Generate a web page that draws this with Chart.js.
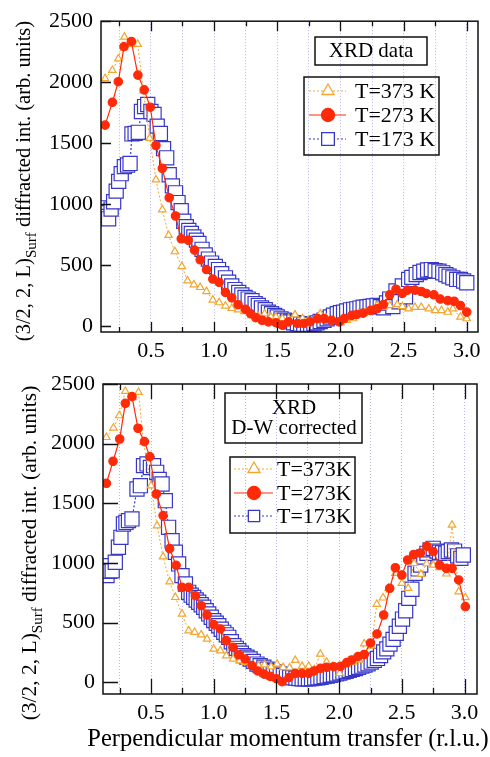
<!DOCTYPE html>
<html lang="en">
<head>
<meta charset="UTF-8">
<title>XRD surface rod</title>
<script src="https://cdn.jsdelivr.net/npm/chart.js"></script>
<style>
  body { margin: 0; background: #fff; }
  #wrap { position: relative; width: 490px; height: 757px; }
  canvas { position: absolute; left: 0; }
</style>
</head>
<body>
<div id="wrap">
  <canvas id="topChart" width="490" height="362" style="top:0"></canvas>
  <canvas id="bottomChart" width="490" height="395" style="top:362px"></canvas>
</div>

<script>
// ---- upper panel: XRD data ----
const topL373 = [0.137,0.195,0.242,0.29,0.345,0.395,0.44,0.49,0.54,0.59,0.64,0.69,0.745,0.79,0.84,0.89,0.94,0.99,1.04,1.09,1.14,1.19,1.24,1.295,1.35,1.40,1.45,1.49,1.54,1.59,1.64,1.70,1.745,1.79,1.84,1.89,1.95,2.0,2.05,2.10,2.145,2.2,2.24,2.29,2.34,2.39,2.45,2.49,2.54,2.59,2.64,2.70,2.75,2.80,2.85,2.89,2.95,3.0];
const topI373 = [2031,2098,2192,2371,2310,2312,1929,1541,1200,955,745,611,490,372,340,318,285,215,193,166,146,134,120,88,80,102,75,75,62,62,94,62,48,48,102,62,43,27,48,62,102,115,134,169,155,169,177,161,142,155,155,142,129,129,115,142,75,62];

const topL273 = [0.137,0.195,0.242,0.287,0.345,0.397,0.447,0.495,0.54,0.59,0.645,0.695,0.74,0.795,0.845,0.89,0.94,0.99,1.04,1.09,1.14,1.19,1.25,1.29,1.33,1.38,1.43,1.49,1.54,1.59,1.66,1.71,1.76,1.82,1.87,1.93,1.99,2.03,2.09,2.13,2.18,2.24,2.29,2.34,2.39,2.44,2.49,2.53,2.59,2.64,2.68,2.74,2.79,2.85,2.9,2.95,3.0];
const topI273 = [1648,1835,2004,2291,2334,2058,1937,1795,1481,1294,1053,903,716,705,624,544,464,386,360,276,232,176,138,102,70,48,35,28,8,35,22,22,35,62,62,48,35,62,88,96,107,129,142,177,257,303,268,295,295,284,268,257,222,209,204,169,115];

const topL173 = [0.105,0.125,0.145,0.165,0.185,0.205,0.225,0.245,0.265,0.29,0.315,0.335,0.35,0.375,0.4,0.425,0.45,0.475,0.5,0.525,0.55,0.575,0.6,0.625,0.645,0.67,0.695,0.715,0.74,0.76,0.78,0.8,0.82,0.84,0.86,0.88,0.905,0.93,0.955,0.98,1.01,1.035,1.06,1.09,1.115,1.14,1.165,1.195,1.22,1.245,1.27,1.3,1.325,1.35,1.375,1.405,1.43,1.455,1.48,1.5,1.53,1.555,1.58,1.605,1.63,1.66,1.685,1.71,1.74,1.765,1.79,1.815,1.84,1.87,1.895,1.92,1.945,1.975,2.0,2.025,2.05,2.08,2.105,2.13,2.155,2.18,2.21,2.235,2.26,2.29,2.315,2.34,2.365,2.39,2.415,2.44,2.465,2.49,2.515,2.54,2.565,2.6,2.63,2.66,2.69,2.72,2.75,2.78,2.81,2.835,2.86,2.89,2.92,2.95,2.975,3.0];
const topI173 = [970,930,900,880,960,1020,1107,1187,1250,1308,1321,1334,1576,1580,1589,1760,1800,1817,1760,1736,1640,1580,1455,1380,1241,1150,1093,1013,946,860,815,785,760,732,705,678,630,584,550,517,490,464,430,396,360,330,300,276,255,236,222,209,185,169,150,135,115,102,88,75,60,48,40,35,28,22,18,16,16,16,20,27,38,48,60,75,90,102,110,115,125,134,138,142,148,155,158,161,165,169,160,150,190,222,160,289,200,330,240,383,400,423,440,450,460,464,455,450,437,423,410,396,383,383,370,356];

// ---- lower panel: XRD, D-W corrected ----
const botL373 = [0.144,0.2,0.247,0.295,0.35,0.4,0.44,0.5,0.548,0.596,0.648,0.694,0.747,0.8,0.848,0.9,0.947,1.0,1.053,1.1,1.154,1.207,1.25,1.305,1.358,1.405,1.457,1.505,1.553,1.605,1.65,1.704,1.757,1.802,1.85,1.9,1.95,2.004,2.057,2.11,2.16,2.2,2.255,2.3,2.35,2.395,2.448,2.5,2.55,2.597,2.652,2.698,2.75,2.8,2.855,2.9,2.953,3.006];
const botI373 = [2053,2132,2235,2439,2389,2431,2012,1648,1313,1053,843,712,573,433,419,399,363,279,265,223,195,181,168,142,138,148,131,153,125,122,185,135,135,106,237,170,134,75,150,170,187,324,305,655,708,788,914,830,788,997,906,995,983,962,909,1318,759,711];

const botL273 = [0.144,0.197,0.25,0.295,0.348,0.396,0.447,0.49,0.542,0.596,0.648,0.7,0.747,0.8,0.853,0.9,0.947,1.0,1.053,1.1,1.154,1.2,1.25,1.305,1.35,1.4,1.45,1.5,1.545,1.6,1.65,1.704,1.757,1.8,1.85,1.9,1.956,2.01,2.06,2.1,2.15,2.2,2.25,2.302,2.355,2.403,2.448,2.5,2.546,2.594,2.648,2.7,2.749,2.8,2.855,2.9,2.953,3.006];
const botI273 = [1668,1852,2039,2338,2394,2129,2017,1891,1578,1397,1120,980,796,796,726,642,564,483,447,349,293,231,195,139,95,70,50,30,5,40,75,75,75,95,117,125,131,134,165,187,215,233,330,405,564,788,960,899,1025,1071,1083,1140,1095,983,955,955,858,634];

const botL173 = [0.122,0.149,0.17,0.19,0.215,0.24,0.26,0.28,0.3,0.32,0.348,0.388,0.415,0.44,0.468,0.495,0.52,0.545,0.565,0.588,0.614,0.64,0.668,0.694,0.72,0.747,0.774,0.8,0.82,0.84,0.86,0.88,0.9,0.92,0.94,0.96,0.98,1.0,1.02,1.04,1.06,1.08,1.1,1.12,1.14,1.16,1.18,1.2,1.22,1.24,1.265,1.29,1.315,1.345,1.37,1.4,1.425,1.45,1.475,1.5,1.53,1.555,1.58,1.605,1.63,1.655,1.68,1.705,1.73,1.755,1.78,1.805,1.83,1.855,1.88,1.905,1.93,1.955,1.98,2.005,2.03,2.055,2.08,2.105,2.13,2.155,2.18,2.205,2.23,2.255,2.28,2.305,2.33,2.355,2.38,2.405,2.43,2.455,2.48,2.505,2.53,2.555,2.58,2.605,2.63,2.65,2.675,2.7,2.725,2.75,2.78,2.8,2.825,2.85,2.87,2.895,2.92,2.945,2.97,2.99];
const botI173 = [977,894,930,935,1006,1132,1215,1327,1340,1355,1369,1620,1648,1816,1830,1800,1816,1760,1700,1662,1522,1299,1187,1090,992,894,824,754,730,712,690,671,650,629,600,573,545,517,495,474,445,419,398,377,340,307,285,265,244,223,210,195,175,153,140,126,110,97,90,84,70,58,50,42,38,35,32,30,30,30,32,35,38,42,48,52,58,64,70,78,85,92,100,108,116,125,135,145,155,170,185,200,225,255,280,320,360,410,470,530,600,704,780,914,950,983,1050,1081,1110,1123,1100,1090,1085,1081,1095,1109,1100,1060,1039,1067];

const seriesLabelsTop = ['T=373 K', 'T=273 K', 'T=173 K'];
const seriesLabelsBot = ['T=373K', 'T=273K', 'T=173K'];
const yTicks = [0, 500, 1000, 1500, 2000, 2500];
const xTickStep = 0.25;
const xTitle = 'Perpendicular momentum transfer (r.l.u.)';

const SERIF = "'Liberation Serif', 'Times New Roman', serif";
const styles = [
    {color: '#f2a630', point: 'triangle', radius: 4.3, fill: '#ffffff', dash: [2, 2], order: 1, lw: 1},
    {color: '#ff2a08', point: 'circle', radius: 4.2, fill: '#ff2a08', dash: [], order: 0, lw: 1.2},
    {color: '#3737c8', point: 'rect', radius: 10, fill: '#ffffff', dash: [2, 2], order: 2, lw: 1.2},
];

function pts(ls, is) {
    return ls.map((l, i) => ({x: l, y: is[i]}));
}

// frame, inward ticks, axis titles, boxes and legend
const panelDecor = {
    id: 'panelDecor',
    afterDatasetsDraw(chart, args, o) {
        const ctx = chart.ctx;
        const a = chart.chartArea;
        const xs = chart.scales.x, ys = chart.scales.y;
        ctx.save();
        ctx.strokeStyle = '#111';
        ctx.lineWidth = 1.3;
        ctx.beginPath();
        xs.ticks.forEach(t => {
            const px = Math.round(xs.getPixelForValue(t.value)) + 0.5;
            const len = t.label !== '' ? o.major : o.minor;
            ctx.moveTo(px, a.bottom); ctx.lineTo(px, a.bottom - len);
            ctx.moveTo(px, a.top); ctx.lineTo(px, a.top + len);
        });
        ys.ticks.forEach(t => {
            const py = Math.round(ys.getPixelForValue(t.value)) + 0.5;
            ctx.moveTo(a.left, py); ctx.lineTo(a.left + o.yLen, py);
        });
        ctx.stroke();
        ctx.lineWidth = 1.5;
        ctx.strokeRect(a.left, a.top, a.right - a.left, a.bottom - a.top);
        ctx.restore();
    },
    afterDraw(chart, args, o) {
        const ctx = chart.ctx;
        ctx.save();
        ctx.fillStyle = '#000';
        ctx.textBaseline = 'alphabetic';

        // rotated y title with subscript
        const t = o.ytitle;
        const f1 = t.size + 'px ' + SERIF, f2 = Math.round(t.size * 0.72) + 'px ' + SERIF;
        const p1 = '(3/2, 2, L)', p2 = 'Surf', p3 = ' diffracted int. (arb. units)';
        ctx.font = f1; const w1 = ctx.measureText(p1).width, w3 = ctx.measureText(p3).width;
        ctx.font = f2; const w2 = ctx.measureText(p2).width;
        ctx.translate(t.x, t.y);
        ctx.rotate(-Math.PI / 2);
        let cx = -(w1 + w2 + w3) / 2;
        const base = t.size * 0.35;
        ctx.font = f1; ctx.fillText(p1, cx, base); cx += w1;
        ctx.font = f2; ctx.fillText(p2, cx, base + t.size * 0.28); cx += w2;
        ctx.font = f1; ctx.fillText(p3, cx, base);
        ctx.setTransform(1, 0, 0, 1, 0, 0);

        // x title (drawn here so it is not squeezed to the plot width)
        if (o.xtitle) {
            ctx.font = o.xtitle.size + 'px ' + SERIF;
            ctx.textAlign = 'center';
            ctx.textBaseline = 'middle';
            ctx.fillText(xTitle, o.xtitle.x, o.xtitle.y);
        }

        // note box
        const n = o.note;
        ctx.lineWidth = 1.5;
        ctx.strokeStyle = '#111';
        ctx.strokeRect(n.box[0], n.box[1], n.box[2] - n.box[0], n.box[3] - n.box[1]);
        ctx.font = n.size + 'px ' + SERIF;
        ctx.textAlign = 'center';
        ctx.textBaseline = 'middle';
        n.lines.forEach((s, i) => ctx.fillText(s, n.cx, n.ys[i]));

        // legend
        const g = o.legend;
        ctx.strokeRect(g.box[0], g.box[1], g.box[2] - g.box[0], g.box[3] - g.box[1]);
        ctx.textAlign = 'left';
        ctx.font = g.size + 'px ' + SERIF;
        g.labels.forEach((lab, i) => {
            const s = styles[i], yy = g.ys[i];
            ctx.save();
            ctx.strokeStyle = s.color;
            ctx.lineWidth = s.lw;
            ctx.setLineDash(s.dash);
            ctx.beginPath();
            ctx.moveTo(g.line[0], yy); ctx.lineTo(g.line[1], yy);
            ctx.stroke();
            ctx.setLineDash([]);
            ctx.fillStyle = s.fill;
            ctx.lineWidth = 1.3;
            Chart.helpers.drawPoint(ctx, {pointStyle: s.point, radius: g.mr[i], borderWidth: 1.3, rotation: 0}, g.markX, yy);
            ctx.restore();
            ctx.fillText(lab, g.textX, yy + 1);
        });
        ctx.restore();
    }
};

function makeChart(id, d, geo) {
    const datasets = d.map((pair, i) => {
        const s = styles[i];
        return {
            data: pts(pair[0], pair[1]),
            showLine: true,
            borderColor: s.color,
            borderWidth: s.lw,
            borderDash: s.dash,
            pointStyle: s.point,
            pointRadius: s.radius,
            pointBorderColor: s.color,
            pointBackgroundColor: s.fill,
            pointBorderWidth: 1.2,
            order: s.order,
            tension: 0,
        };
    });
    return new Chart(document.getElementById(id), {
        type: 'scatter',
        data: {datasets: datasets},
        plugins: [panelDecor],
        options: {
            responsive: false,
            animation: false,
            events: [],
            layout: {padding: {top: geo.top, right: geo.right, left: 0, bottom: 0}},
            scales: {
                x: {
                    type: 'linear',
                    min: geo.xmin, max: geo.xmax,
                    afterFit: s => { s.height = geo.xh; },
                    border: {display: false, dash: [1, 2]},
                    grid: {color: '#b4b4f0', lineWidth: 1, drawTicks: false},
                    ticks: {
                        stepSize: xTickStep, includeBounds: false, autoSkip: false, maxRotation: 0,
                        padding: geo.xpad, color: '#000',
                        font: {family: SERIF, size: geo.fs},
                        callback: v => (Math.abs(v * 2 - Math.round(v * 2)) < 1e-6 ? v.toFixed(1) : ''),
                    },
                },
                y: {
                    type: 'linear',
                    min: geo.ymin, max: 2500,
                    afterFit: s => { s.width = geo.left; },
                    afterBuildTicks: s => { s.ticks = yTicks.map(v => ({value: v})); },
                    border: {display: false},
                    grid: {display: false, drawTicks: false},
                    ticks: {
                        padding: 8, color: '#000', font: {family: SERIF, size: geo.fs},
                        callback: v => String(v),
                    },
                },
            },
            plugins: {
                legend: {display: false},
                tooltip: {enabled: false},
                panelDecor: geo.decor,
            },
        },
    });
}

makeChart('topChart',
    [[topL373, topI373], [topL273, topI273], [topL173, topI173]],
    {
        top: 15, right: 12, left: 101, xh: 30, xpad: 6, fs: 22,
        xmin: 0.105, xmax: 3.089, ymin: -48,
        decor: {
            major: 10, minor: 5, yLen: 10,
            ytitle: {x: 23, y: 181, size: 20.5},
            note: {box: [315, 37, 427, 65], cx: 371, ys: [51], lines: ['XRD data'], size: 21},
            legend: {
                box: [304, 77, 439, 155], ys: [91, 115, 139], line: [309, 346], markX: 328,
                mr: [7, 6.5, 9], textX: 355, size: 22, labels: seriesLabelsTop,
            },
        },
    });

makeChart('bottomChart',
    [[botL373, botI373], [botL273, botI273], [botL173, botI173]],
    {
        top: 22, right: 13, left: 103, xh: 63, xpad: 6, fs: 22,
        xmin: 0.117, xmax: 3.099, ymin: -98,
        decor: {
            major: 15, minor: 6, yLen: 15,
            ytitle: {x: 28, y: 191, size: 21.5},
            xtitle: {x: 288, y: 378, size: 24.5},
            note: {box: [225, 31, 362, 81], cx: 294, ys: [46, 66], lines: ['XRD', 'D-W corrected'], size: 21},
            legend: {
                box: [230, 95, 355, 171], ys: [107, 131, 154], line: [234, 273], markX: 254,
                mr: [7, 6.5, 8], textX: 277, size: 22, labels: seriesLabelsBot,
            },
        },
    });
</script>
</body>
</html>
